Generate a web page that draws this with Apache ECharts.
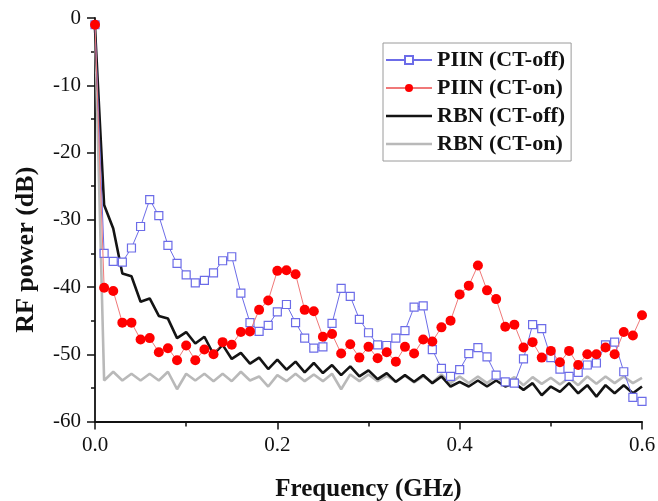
<!DOCTYPE html>
<html>
<head>
<meta charset="utf-8">
<script src="https://cdn.jsdelivr.net/npm/echarts@6/dist/echarts.min.js"></script>
<style>
  html, body { margin: 0; padding: 0; background: #fff; }
  #chart { width: 658px; height: 501px; }
</style>
</head>
<body>
<div id="chart"></div>
<script>
// Frequency grid (GHz)
const freq = [
  0.00, 0.01, 0.02, 0.03, 0.04, 0.05, 0.06, 0.07, 0.08, 0.09,
  0.10, 0.11, 0.12, 0.13, 0.14, 0.15, 0.16, 0.17, 0.18, 0.19,
  0.20, 0.21, 0.22, 0.23, 0.24, 0.25, 0.26, 0.27, 0.28, 0.29,
  0.30, 0.31, 0.32, 0.33, 0.34, 0.35, 0.36, 0.37, 0.38, 0.39,
  0.40, 0.41, 0.42, 0.43, 0.44, 0.45, 0.46, 0.47, 0.48, 0.49,
  0.50, 0.51, 0.52, 0.53, 0.54, 0.55, 0.56, 0.57, 0.58, 0.59,
  0.60
];

// RF power (dB)
const piinCtOff = [
  -1.0, -35.0, -36.2, -36.3, -34.2, -31.0, -27.0, -29.4, -33.8, -36.5,
  -38.2, -39.4, -39.0, -37.9, -36.1, -35.5, -40.9, -45.3, -46.6, -45.7,
  -43.7, -42.6, -45.3, -47.6, -49.1, -48.9, -45.4, -40.2, -41.4, -44.8,
  -46.8, -48.6, -48.7, -47.6, -46.5, -43.0, -42.8, -49.3, -52.1, -53.3,
  -52.3, -49.9, -49.0, -50.4, -53.1, -54.1, -54.3, -50.7, -45.6, -46.2,
  -50.5, -52.2, -53.3, -52.7, -51.6, -51.3, -48.6, -48.2, -52.6, -56.4,
  -57.0
];

const piinCtOn = [
  -1.0, -40.1, -40.6, -45.3, -45.3, -47.8, -47.6, -49.7, -49.1, -50.9,
  -48.7, -50.9, -49.3, -50.0, -48.2, -48.6, -46.7, -46.6, -43.4, -42.0,
  -37.6, -37.5, -38.1, -43.4, -43.6, -47.4, -47.0, -49.9, -48.5, -50.5,
  -48.9, -50.6, -49.7, -51.1, -48.9, -49.9, -47.8, -48.1, -46.0, -45.0,
  -41.1, -39.8, -36.8, -40.5, -41.8, -45.9, -45.6, -49.0, -48.2, -50.5,
  -49.5, -51.2, -49.5, -51.6, -50.0, -50.0, -49.0, -50.0, -46.7, -47.2,
  -44.2
];

const rbnCtOff = [
  -1.5, -27.8, -31.3, -38.0, -38.4, -42.2, -41.7, -44.3, -44.7, -47.6,
  -46.7, -48.4, -47.4, -50.0, -48.6, -50.7, -49.8, -51.4, -50.5, -52.2,
  -50.8, -52.3, -51.1, -52.7, -51.3, -52.8, -51.6, -53.1, -51.8, -53.3,
  -52.4, -53.7, -52.8, -54.1, -53.1, -54.1, -53.1, -54.3, -53.3, -54.8,
  -54.1, -54.8, -53.9, -54.8, -53.9, -54.8, -54.3, -55.3, -54.3, -56.1,
  -54.8, -55.6, -54.3, -55.8, -54.6, -56.3, -54.6, -55.8, -54.6, -55.8,
  -54.8
];

const rbnCtOn = [
  -1.0, -53.9, -52.6, -53.9, -52.9, -53.9, -52.9, -53.9, -52.6, -55.2,
  -52.9, -53.9, -52.9, -54.0, -52.9, -54.0, -52.6, -53.9, -53.3, -54.8,
  -53.1, -54.0, -52.9, -54.0, -53.0, -54.0, -52.9, -55.2, -53.0, -54.0,
  -53.0, -54.0, -53.2, -54.1, -53.2, -54.2, -53.3, -54.2, -53.0, -54.3,
  -53.3, -54.3, -53.3, -54.3, -53.3, -54.3, -53.4, -54.6, -53.4, -54.4,
  -53.5, -54.5, -53.5, -54.6, -53.3, -54.4, -53.3, -54.3, -53.3, -54.3,
  -53.5
];

const seriesNames = ['PIIN (CT-off)', 'PIIN (CT-on)', 'RBN (CT-off)', 'RBN (CT-on)'];

const pairs = (ys) => freq.map((f, i) => [f, ys[i]]);

const serif = '"Liberation Serif", "DejaVu Serif", serif';
const ink = '#111';

// Plain stroke for the legend of the symbol-less curves: a thin bar centred
// in the icon box (the two degenerate sub-paths pin the box to full height).
const barIcon = 'path://M0,0L0,0ZM0,10L0,10ZM0,3.7H46V6.3H0Z';

const chart = echarts.init(document.getElementById('chart'), null, { renderer: 'canvas' });

chart.setOption({
  animation: false,
  backgroundColor: '#fff',
  grid: {
    left: 95, right: 16, top: 18, bottom: 79.5,
    containLabel: false,
    outerBoundsMode: 'none'
  },
  legend: {
    data: [
      { name: seriesNames[0] },
      { name: seriesNames[1] },
      { name: seriesNames[2], icon: barIcon },
      { name: seriesNames[3], icon: barIcon }
    ],
    orient: 'vertical',
    left: 383,
    top: 43,
    padding: [6, 6, 6, 2],
    itemGap: 6,
    itemWidth: 46,
    itemHeight: 10,
    borderColor: '#9a9a9a',
    borderWidth: 1,
    backgroundColor: '#fff',
    textStyle: { fontFamily: serif, fontWeight: 'bold', fontSize: 22, color: ink, lineHeight: 22 }
  },
  xAxis: {
    type: 'value',
    min: 0,
    max: 0.6,
    interval: 0.2,
    name: 'Frequency (GHz)',
    nameLocation: 'middle',
    nameGap: 56,
    nameTextStyle: { fontFamily: serif, fontWeight: 'bold', fontSize: 25, color: ink },
    axisLine: { show: true, onZero: false, lineStyle: { color: ink, width: 1.8 } },
    axisTick: { show: true, inside: false, length: 8, lineStyle: { color: ink, width: 1.5 } },
    minorTick: { show: true, splitNumber: 2, length: 5, lineStyle: { color: ink, width: 1.5 } },
    axisLabel: {
      margin: 13,
      fontFamily: serif, fontSize: 21, color: ink,
      formatter: (v) => v.toFixed(1)
    },
    splitLine: { show: false }
  },
  yAxis: {
    type: 'value',
    min: -60,
    max: 0,
    interval: 10,
    name: 'RF power (dB)',
    nameLocation: 'middle',
    nameGap: 56,
    nameTextStyle: {
      fontFamily: serif, fontWeight: 'bold', fontSize: 26, color: ink,
      padding: [0, 60, 0, 0]
    },
    axisLine: { show: true, onZero: false, lineStyle: { color: ink, width: 1.8 } },
    axisTick: { show: true, inside: false, length: 8, lineStyle: { color: ink, width: 1.5 } },
    minorTick: { show: true, splitNumber: 2, length: 4, lineStyle: { color: ink, width: 1.5 } },
    axisLabel: { margin: 14, fontFamily: serif, fontSize: 21, color: ink },
    splitLine: { show: false }
  },
  series: [
    {
      name: seriesNames[0],
      type: 'line',
      data: pairs(piinCtOff),
      z: 4,
      symbol: 'rect',
      symbolSize: 8,
      showAllSymbol: true,
      lineStyle: { color: '#6c6ce8', width: 1 },
      itemStyle: { color: '#ffffff', borderColor: '#6c6ce8', borderWidth: 1.2 }
    },
    {
      name: seriesNames[1],
      type: 'line',
      data: pairs(piinCtOn),
      z: 5,
      symbol: 'circle',
      symbolSize: 10,
      showAllSymbol: true,
      lineStyle: { color: '#f07878', width: 1 },
      itemStyle: { color: '#ff0000', borderWidth: 0 }
    },
    {
      name: seriesNames[2],
      type: 'line',
      data: pairs(rbnCtOff),
      z: 3,
      symbol: 'none',
      lineStyle: { color: '#141414', width: 2.6 },
      itemStyle: { color: '#141414' }
    },
    {
      name: seriesNames[3],
      type: 'line',
      data: pairs(rbnCtOn),
      z: 2,
      symbol: 'none',
      lineStyle: { color: '#b9b9b9', width: 2.6 },
      itemStyle: { color: '#b9b9b9' }
    }
  ]
});
</script>
</body>
</html>
